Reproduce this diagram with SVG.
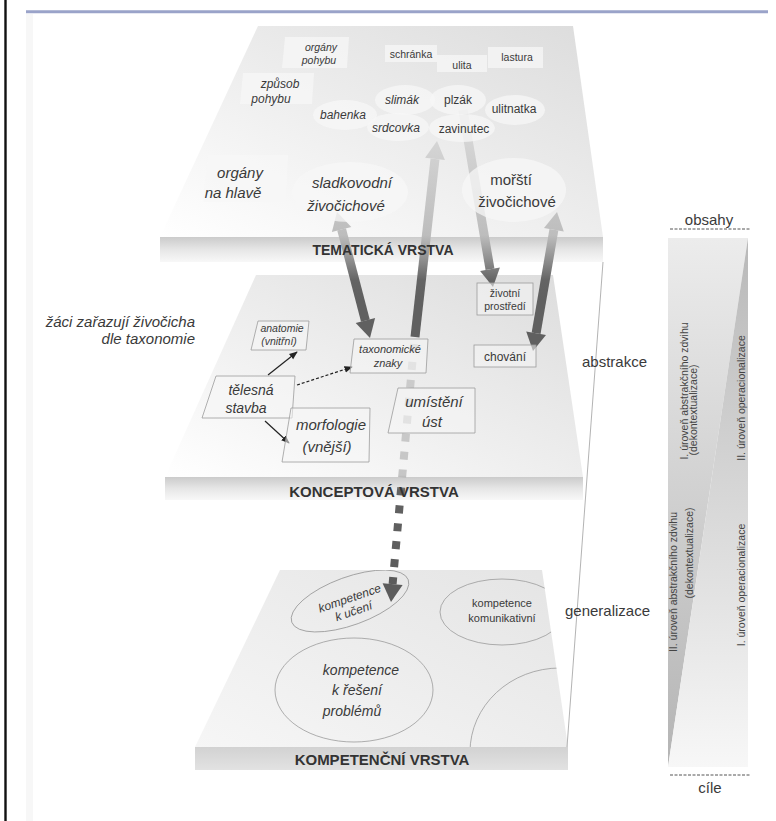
<svg xmlns="http://www.w3.org/2000/svg" width="776" height="821" viewBox="0 0 776 821">
<defs>
<style>
.t{font-family:"Liberation Sans",Arial,sans-serif;fill:#3a3a3a}
.i{font-style:italic}
.lbl{font-family:"Liberation Sans",Arial,sans-serif;font-weight:bold;fill:#333;text-anchor:middle}
.c{text-anchor:middle}
.bx1{fill:#f7f7f7;opacity:.75}
.bx2{fill:#f6f6f6;fill-opacity:.55;stroke:#9c9c9c;stroke-width:.8}
.el3{fill:none;stroke:#9a9a9a;stroke-width:.8}
.thin{stroke:#222;stroke-width:1.2;fill:none}
.rot{font-family:"Liberation Sans",Arial,sans-serif;fill:#444;font-size:10.5px;text-anchor:middle}
</style>
<linearGradient id="pl" x1="1" y1="0" x2="0" y2="1">
<stop offset="0" stop-color="#dcdcdc"/><stop offset="0.55" stop-color="#efefef"/><stop offset="1" stop-color="#ffffff"/>
</linearGradient>
<linearGradient id="pl3" x1="1" y1="0" x2="0" y2="1">
<stop offset="0" stop-color="#e4e4e4"/><stop offset="1" stop-color="#f6f6f6"/>
</linearGradient>
<linearGradient id="band" x1="0" y1="0" x2="0" y2="1">
<stop offset="0" stop-color="#cbcbcb"/><stop offset="0.5" stop-color="#e6e6e6"/><stop offset="1" stop-color="#f8f8f8"/>
</linearGradient>
<linearGradient id="band3" x1="0" y1="0" x2="0" y2="1">
<stop offset="0" stop-color="#d2d2d2"/><stop offset="1" stop-color="#e2e2e2"/>
</linearGradient>
<linearGradient id="ag" gradientUnits="userSpaceOnUse" x1="0" y1="120" x2="0" y2="300">
<stop offset="0" stop-color="#dadada"/><stop offset="0.64" stop-color="#bdbdbd"/><stop offset="0.79" stop-color="#8a8a8a"/><stop offset="0.89" stop-color="#646464"/><stop offset="1" stop-color="#606060"/>
</linearGradient>
<linearGradient id="dg" gradientUnits="userSpaceOnUse" x1="0" y1="340" x2="0" y2="600">
<stop offset="0" stop-color="#cdcdcd"/><stop offset="0.52" stop-color="#c6c6c6"/><stop offset="0.58" stop-color="#626262"/><stop offset="1" stop-color="#5a5a5a"/>
</linearGradient>
<linearGradient id="rt" x1="0" y1="0" x2="0" y2="1">
<stop offset="0" stop-color="#b8b8b8"/><stop offset="1" stop-color="#f7f7f7"/>
</linearGradient>
<linearGradient id="lt" x1="0" y1="0" x2="0" y2="1">
<stop offset="0" stop-color="#ececec"/><stop offset="1" stop-color="#b4b4b4"/>
</linearGradient>
<clipPath id="c3"><polygon points="280,570 542,570 568,747 195,747"/></clipPath>
<marker id="ah" viewBox="0 0 10 10" refX="9" refY="5" markerWidth="7" markerHeight="7" orient="auto-start-reverse">
<path d="M0,1 L10,5 L0,9 z" fill="#222"/>
</marker>
</defs>

<rect width="776" height="821" fill="#ffffff"/>
<rect x="26" y="14" width="7" height="807" fill="#f7f7f7"/>
<line x1="5.5" y1="0" x2="5.5" y2="821" stroke="#111" stroke-width="2.4"/>
<line x1="26" y1="11.8" x2="768" y2="11.8" stroke="#9aa3c9" stroke-width="3"/>

<g id="layer-tematicka">
<polygon points="258,26 573,26 603,237 160,237" fill="url(#pl)"/>
<rect x="160" y="237" width="443" height="25" fill="url(#band)"/>
</g>
<g id="layer-konceptova">
<polygon points="256,275 553,275 583,477 165,477" fill="url(#pl)"/>
<rect x="165" y="477" width="418" height="23" fill="url(#band)"/>
</g>
<g id="layer-kompetencni">
<polygon points="280,570 542,570 568,747 195,747" fill="url(#pl3)"/>
<rect x="195" y="747" width="373" height="23" fill="url(#band3)"/>
</g>
<line x1="603" y1="262" x2="567" y2="747" stroke="#a0a0a0" stroke-width="0.8"/>

<!-- connectors -->
<g id="connectors">
<line class="thin" x1="268" y1="375" x2="297" y2="352" marker-end="url(#ah)"/>
<line class="thin" x1="265" y1="421" x2="289" y2="443" marker-end="url(#ah)"/>
<line class="thin" x1="297" y1="385" x2="352" y2="367" stroke-dasharray="3 2" marker-end="url(#ah)"/>

<line x1="341.6" y1="229.4" x2="365.4" y2="320.6" stroke="url(#ag)" stroke-width="9"/>
<polygon points="337,212 351.3,226.9 331.9,231.9" fill="url(#ag)"/>
<polygon points="370,338 375.1,318.1 355.7,323.1" fill="url(#ag)"/>

<line x1="553.9" y1="229.7" x2="536.1" y2="333.3" stroke="url(#ag)" stroke-width="9"/>
<polygon points="557,212 563.8,231.4 544,228" fill="url(#ag)"/>
<polygon points="533,351 546,335 526.2,331.6" fill="url(#ag)"/>

<line x1="415" y1="337" x2="435" y2="158.9" stroke="url(#ag)" stroke-width="9"/>
<polygon points="437,141 444.9,160 425.1,157.8" fill="url(#ag)"/>

<line x1="463" y1="110" x2="490" y2="269.3" stroke="url(#ag)" stroke-width="9"/>
<polygon points="493,287 499.9,267.6 480.1,271" fill="url(#ag)"/>

<line x1="414" y1="344" x2="392.6" y2="584.1" stroke="url(#dg)" stroke-width="8" stroke-dasharray="8 10"/>
<polygon points="391,602 402.6,585 382.6,583.2" fill="#5c5c5c"/>
</g>

<text class="lbl" x="383" y="255" font-size="14">TEMATICKÁ VRSTVA</text>
<text class="lbl" x="374" y="497" font-size="15">KONCEPTOVÁ VRSTVA</text>
<text class="lbl" x="382" y="765" font-size="15">KOMPETENČNÍ VRSTVA</text>

<!-- top layer nodes -->
<g id="n-organy-pohybu"><polygon class="bx1" points="285,37 349,37 347,68 282,68"/>
<text class="t i c" x="321" y="51" font-size="10.5">orgány</text><text class="t i c" x="319" y="64" font-size="10.5">pohybu</text></g>
<g id="n-zpusob-pohybu"><polygon class="bx1" points="243,73 314,73 312,104 240,104"/>
<text class="t i c" x="280" y="88" font-size="12">způsob</text><text class="t i c" x="271" y="103" font-size="12">pohybu</text></g>
<g id="n-schranka"><rect class="bx1" x="385" y="45" width="52" height="17"/><text class="t c" x="411" y="58" font-size="10.5">schránka</text></g>
<g id="n-ulita"><rect class="bx1" x="437" y="55" width="50" height="17"/><text class="t c" x="462" y="69" font-size="10.5">ulita</text></g>
<g id="n-lastura"><rect class="bx1" x="488" y="47" width="55" height="21"/><text class="t c" x="517" y="61" font-size="10.5">lastura</text></g>
<g id="n-bahenka"><ellipse class="bx1" cx="345" cy="115" rx="32" ry="15"/><text class="t i c" x="343" y="119" font-size="12">bahenka</text></g>
<g id="n-slimak"><ellipse class="bx1" cx="405" cy="100" rx="30" ry="15"/><text class="t i c" x="402" y="104" font-size="12">slimák</text></g>
<g id="n-srdcovka"><ellipse class="bx1" cx="398" cy="127" rx="31" ry="14"/><text class="t i c" x="396" y="132" font-size="12">srdcovka</text></g>
<g id="n-plzak"><ellipse class="bx1" cx="458" cy="100" rx="28" ry="15"/><text class="t c" x="458" y="104" font-size="12">plzák</text></g>
<g id="n-zavinutec"><ellipse class="bx1" cx="462" cy="128" rx="33" ry="14"/><text class="t c" x="464" y="133" font-size="12">zavinutec</text></g>
<g id="n-ulitnatka"><ellipse class="bx1" cx="515" cy="110" rx="30" ry="15"/><text class="t c" x="514" y="113" font-size="12">ulitnatka</text></g>
<g id="n-organy-na-hlave"><polygon class="bx1" points="208,155 288,155 286,202 203,202"/>
<text class="t i c" x="240" y="178" font-size="15">orgány</text><text class="t i c" x="233" y="198" font-size="15">na hlavě</text></g>
<g id="n-sladkovodni"><ellipse class="bx1" cx="350" cy="192" rx="58" ry="30"/>
<text class="t i c" x="352" y="188" font-size="15">sladkovodní</text><text class="t i c" x="346" y="211" font-size="15">živočichové</text></g>
<g id="n-morsti"><ellipse class="bx1" cx="514" cy="190" rx="52" ry="32"/>
<text class="t c" x="511" y="185" font-size="15">mořští</text><text class="t c" x="517" y="207" font-size="15">živočichové</text></g>

<!-- concept layer nodes -->
<text class="t i" x="195" y="327" font-size="15" text-anchor="end">žáci zařazují živočicha</text>
<text class="t i" x="195" y="344" font-size="15" text-anchor="end">dle taxonomie</text>
<g id="n-anatomie"><polygon class="bx2" points="258,321 309,321 306,350 251,350"/>
<text class="t i c" x="282" y="332" font-size="10.5">anatomie</text><text class="t i c" x="279" y="345" font-size="10.5">(vnitřní)</text></g>
<g id="n-taxonomicke"><polygon class="bx2" points="354,339 428,339 426,373 350,373"/>
<text class="t i c" x="390" y="353" font-size="11">taxonomické</text><text class="t i c" x="388" y="367" font-size="11">znaky</text></g>
<g id="n-telesna"><polygon class="bx2" points="216,376 295,376 292,418 202,418"/>
<text class="t i c" x="251" y="395" font-size="14">tělesná</text><text class="t i c" x="246" y="413" font-size="14">stavba</text></g>
<g id="n-morfologie"><polygon class="bx2" points="291,408 370,408 369,462 282,462"/>
<text class="t i c" x="331" y="430" font-size="15">morfologie</text><text class="t i c" x="327" y="452" font-size="15">(vnější)</text></g>
<g id="n-umisteni"><polygon class="bx2" points="398,388 475,388 475,433 388,433"/>
<text class="t i c" x="434" y="407" font-size="15">umístění</text><text class="t i c" x="432" y="427" font-size="15">úst</text></g>
<g id="n-zivotni"><rect class="bx2" x="477" y="283" width="56" height="32"/>
<text class="t c" x="505" y="297" font-size="10.5">životní</text><text class="t c" x="505" y="310" font-size="10.5">prostředí</text></g>
<g id="n-chovani"><rect class="bx2" x="474" y="345" width="62" height="22"/>
<text class="t c" x="505" y="361" font-size="12">chování</text></g>

<!-- competence layer nodes -->
<g id="n-k-uceni" clip-path="url(#c3)"><ellipse class="el3" cx="350" cy="601" rx="62" ry="24" transform="rotate(-20 350 601)"/>
<text class="t i c" x="351" y="602" font-size="12" transform="rotate(-19 351 602)">kompetence</text>
<text class="t i c" x="355" y="615" font-size="12" transform="rotate(-19 355 615)">k učení</text></g>
<g id="n-komunikativni"><g clip-path="url(#c3)"><ellipse class="el3" cx="502" cy="612" rx="62" ry="33"/></g>
<text class="t c" x="502" y="607" font-size="11">kompetence</text><text class="t c" x="502" y="622" font-size="11">komunikativní</text></g>
<g id="n-reseni"><ellipse class="el3" cx="354" cy="690" rx="79" ry="52"/>
<text class="t i c" x="361" y="675" font-size="14">kompetence</text><text class="t i c" x="357" y="695" font-size="14">k řešení</text><text class="t i c" x="352" y="716" font-size="14">problémů</text></g>
<g id="n-arc" clip-path="url(#c3)"><ellipse class="el3" cx="560" cy="752" rx="90" ry="84"/></g>

<!-- side labels -->
<text class="t" x="582" y="367" font-size="15">abstrakce</text>
<text class="t" x="565" y="616" font-size="15">generalizace</text>

<g id="scale">
<polygon points="668,238 748,238 668,767" fill="url(#lt)"/>
<polygon points="748,238 748,767 668,767" fill="url(#rt)"/>
<line x1="670" y1="229" x2="750" y2="229" stroke="#555" stroke-width="1" stroke-dasharray="3 1.5"/>
<line x1="670" y1="775" x2="751" y2="775" stroke="#555" stroke-width="1" stroke-dasharray="3 1.5"/>
<text class="t c" x="709" y="225" font-size="15">obsahy</text>
<text class="t c" x="710" y="793" font-size="15">cíle</text>
<text class="rot" transform="translate(688 391) rotate(-90)">I. úroveň abstrakčního zdvihu</text>
<text class="rot" transform="translate(697 410) rotate(-90)">(dekontextualizace)</text>
<text class="rot" transform="translate(745 398) rotate(-90)">II. úroveň operacionalizace</text>
<text class="rot" transform="translate(677 582) rotate(-90)">II. úroveň abstrakčního zdvihu</text>
<text class="rot" transform="translate(693 553) rotate(-90)">(dekontextualizace)</text>
<text class="rot" transform="translate(745 585) rotate(-90)">I. úroveň operacionalizace</text>
</g>
</svg>
